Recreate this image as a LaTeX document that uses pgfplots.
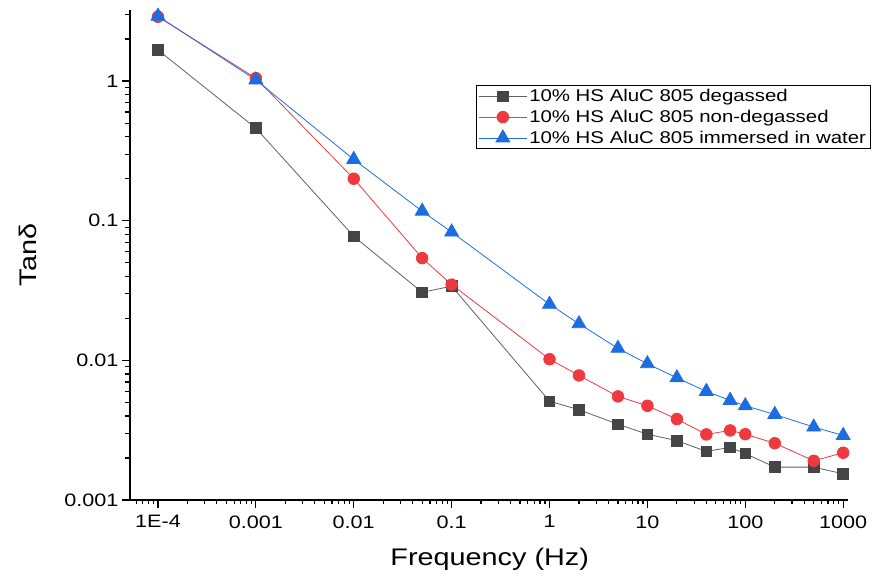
\documentclass[border=0pt]{standalone}
\usepackage{fontspec}
\setmainfont{Liberation Sans}[FakeStretch=1.2]
\usepackage{pgfplots}
\pgfplotsset{compat=1.18}
\definecolor{cblack}{HTML}{454545}
\definecolor{cred}{HTML}{EE3A3E}
\definecolor{cblue}{HTML}{1C6EE0}
\begin{document}
\begin{tikzpicture}
\begin{axis}[
 scale only axis, width=718pt, height=490pt,
 xmode=log, ymode=log,
 xmin=5.18e-5, xmax=1.12e3, ymin=1e-3, ymax=3.23,
 axis lines=left, axis line style={-, line width=1.6pt},
 tick align=outside, major tick length=8pt, minor tick length=4.5pt,
 every tick/.style={line width=1.2pt, black},
 xtick={1e-4,1e-3,1e-2,1e-1,1,10,100,1000},
 xticklabels={1E-4,0.001,0.01,0.1,1,10,100,1000},
 ytick={1e-3,1e-2,1e-1,1},
 yticklabels={0.001,0.01,0.1,1},
 minor xtick={6e-5,7e-5,8e-5,9e-5,
   2e-4,3e-4,4e-4,5e-4,6e-4,7e-4,8e-4,9e-4,
   2e-3,3e-3,4e-3,5e-3,6e-3,7e-3,8e-3,9e-3,
   2e-2,3e-2,4e-2,5e-2,6e-2,7e-2,8e-2,9e-2,
   0.2,0.3,0.4,0.5,0.6,0.7,0.8,0.9,
   2,3,4,5,6,7,8,9,20,30,40,50,60,70,80,90,
   200,300,400,500,600,700,800,900},
 minor ytick={2e-3,3e-3,4e-3,5e-3,6e-3,7e-3,8e-3,9e-3,
   2e-2,3e-2,4e-2,5e-2,6e-2,7e-2,8e-2,9e-2,
   0.2,0.3,0.4,0.5,0.6,0.7,0.8,0.9,2,3},
 ticklabel style={font=\fontsize{18}{18}\selectfont},
 xticklabel style={yshift=-4pt},
 xlabel={Frequency (Hz)}, ylabel={Tanδ},
 xlabel style={at={(axis description cs:0.501,-0.122)}, anchor=center, font=\fontsize{24}{24}\selectfont},
 ylabel style={at={(axis description cs:-0.142,0.5)}, anchor=center, font=\fontsize{24}{24}\selectfont},
 legend style={at={(axis description cs:0.482,0.847)}, anchor=north west, draw=black, line width=0.8pt,
   font=\fontsize{17}{19}\selectfont, inner sep=2pt, row sep=3pt, cells={anchor=west}},
 legend image code/.code={\draw[mark repeat=2,mark phase=2] plot coordinates {(0pt,0pt) (24pt,0pt) (48pt,0pt)};},
 clip=false,
]
\addplot[color=cblack!85, line width=0.8pt, mark=square*, mark size=5.3pt, mark options={fill=cblack, draw=cblack, solid}] coordinates {
 (1e-4,1.67) (1e-3,0.46) (1e-2,0.0774) (0.05,0.0307) (0.1,0.034)
 (1,0.0051) (2,0.00443) (5,0.00349) (10,0.00296) (20,0.00266)
 (40,0.00223) (70,0.00238) (100,0.00215) (200,0.00172) (500,0.00172) (1000,0.00154)};
\addlegendentry{10\% HS AluC 805 degassed}
\addplot[color=cred, line width=0.8pt, mark=*, mark size=5.8pt, mark options={fill=cred, draw=cred}] coordinates {
 (1e-4,2.89) (1e-3,1.05) (1e-2,0.2) (0.05,0.054) (0.1,0.0349)
 (1,0.0102) (2,0.0078) (5,0.00552) (10,0.00473) (20,0.0038)
 (40,0.00295) (70,0.00315) (100,0.00296) (200,0.00255) (500,0.00191) (1000,0.00218)};
\addlegendentry{10\% HS AluC 805 non-degassed}
\addplot[color=cblue, line width=0.8pt, mark=triangle*, mark size=8pt, mark options={fill=cblue, draw=cblue}] coordinates {
 (1e-4,2.92) (1e-3,1.02) (1e-2,0.275) (0.05,0.117) (0.1,0.083)
 (1,0.0252) (2,0.0183) (5,0.0122) (10,0.00946) (20,0.0075)
 (40,0.006) (70,0.00517) (100,0.00473) (200,0.0041) (500,0.00333) (1000,0.0029)};
\addlegendentry{10\% HS AluC 805 immersed in water}
\end{axis}
\path ([shift={(-130pt,-79pt)}]current axis.south west) rectangle ++(874pt,579pt);
\end{tikzpicture}
\end{document}
